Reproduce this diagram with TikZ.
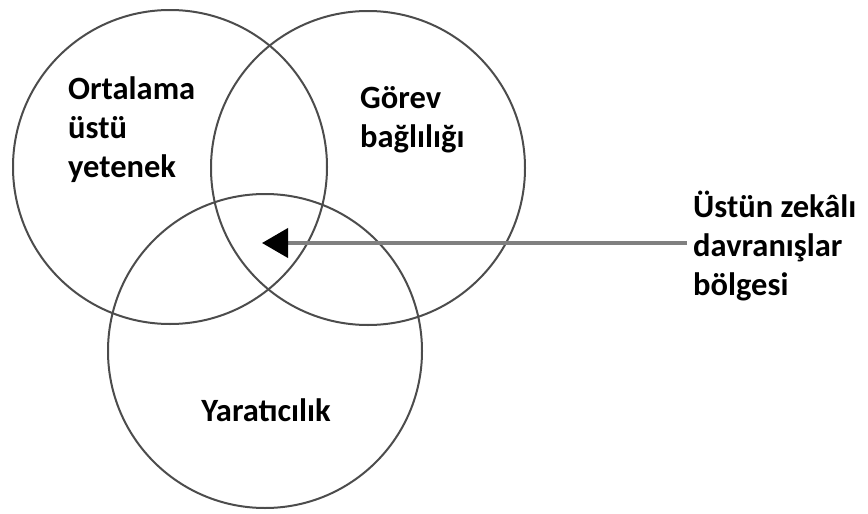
\documentclass[tikz,border=0pt]{standalone}
\usepackage{fontspec}
\setmainfont{Carlito}
\usetikzlibrary{arrows.meta,positioning}

\begin{document}
\begin{tikzpicture}[x=1pt,y=-1pt,
    font=\fontsize{32.5}{39}\selectfont\bfseries,
    ring/.style={draw=black!70,line width=2pt,circle,minimum size=314pt,inner sep=0pt},
    lbl/.style={align=left,inner sep=0pt,anchor=base west},
    pointer/.style={-{Triangle[length=26pt,width=29pt,color=black]},line width=4pt,draw=black!50}]
  \useasboundingbox (0,0) rectangle (868,514);
  \node[ring] (abil) at (170,167) {};
  \node[ring] (task) at (368,168) {};
  \node[ring] (crea) at (265,351) {};
  % base anchor sits on the last line
  \node[lbl] (abiltxt) at (68,177) {Ortalama\\üstü\\yetenek};
  \node[lbl] (tasktxt) at (360,147) {Görev\\bağlılığı};
  \node[inner sep=0pt,anchor=base] (creatxt) at (266,421) {Yaratıcılık};
  \node[lbl] (gifted) at (693,295) {Üstün zekâlı\\davranışlar\\bölgesi};
  \coordinate (core) at (262,243);
  \draw[pointer,shorten <=6pt] (gifted.west |- core) -- (core);
\end{tikzpicture}
\end{document}
